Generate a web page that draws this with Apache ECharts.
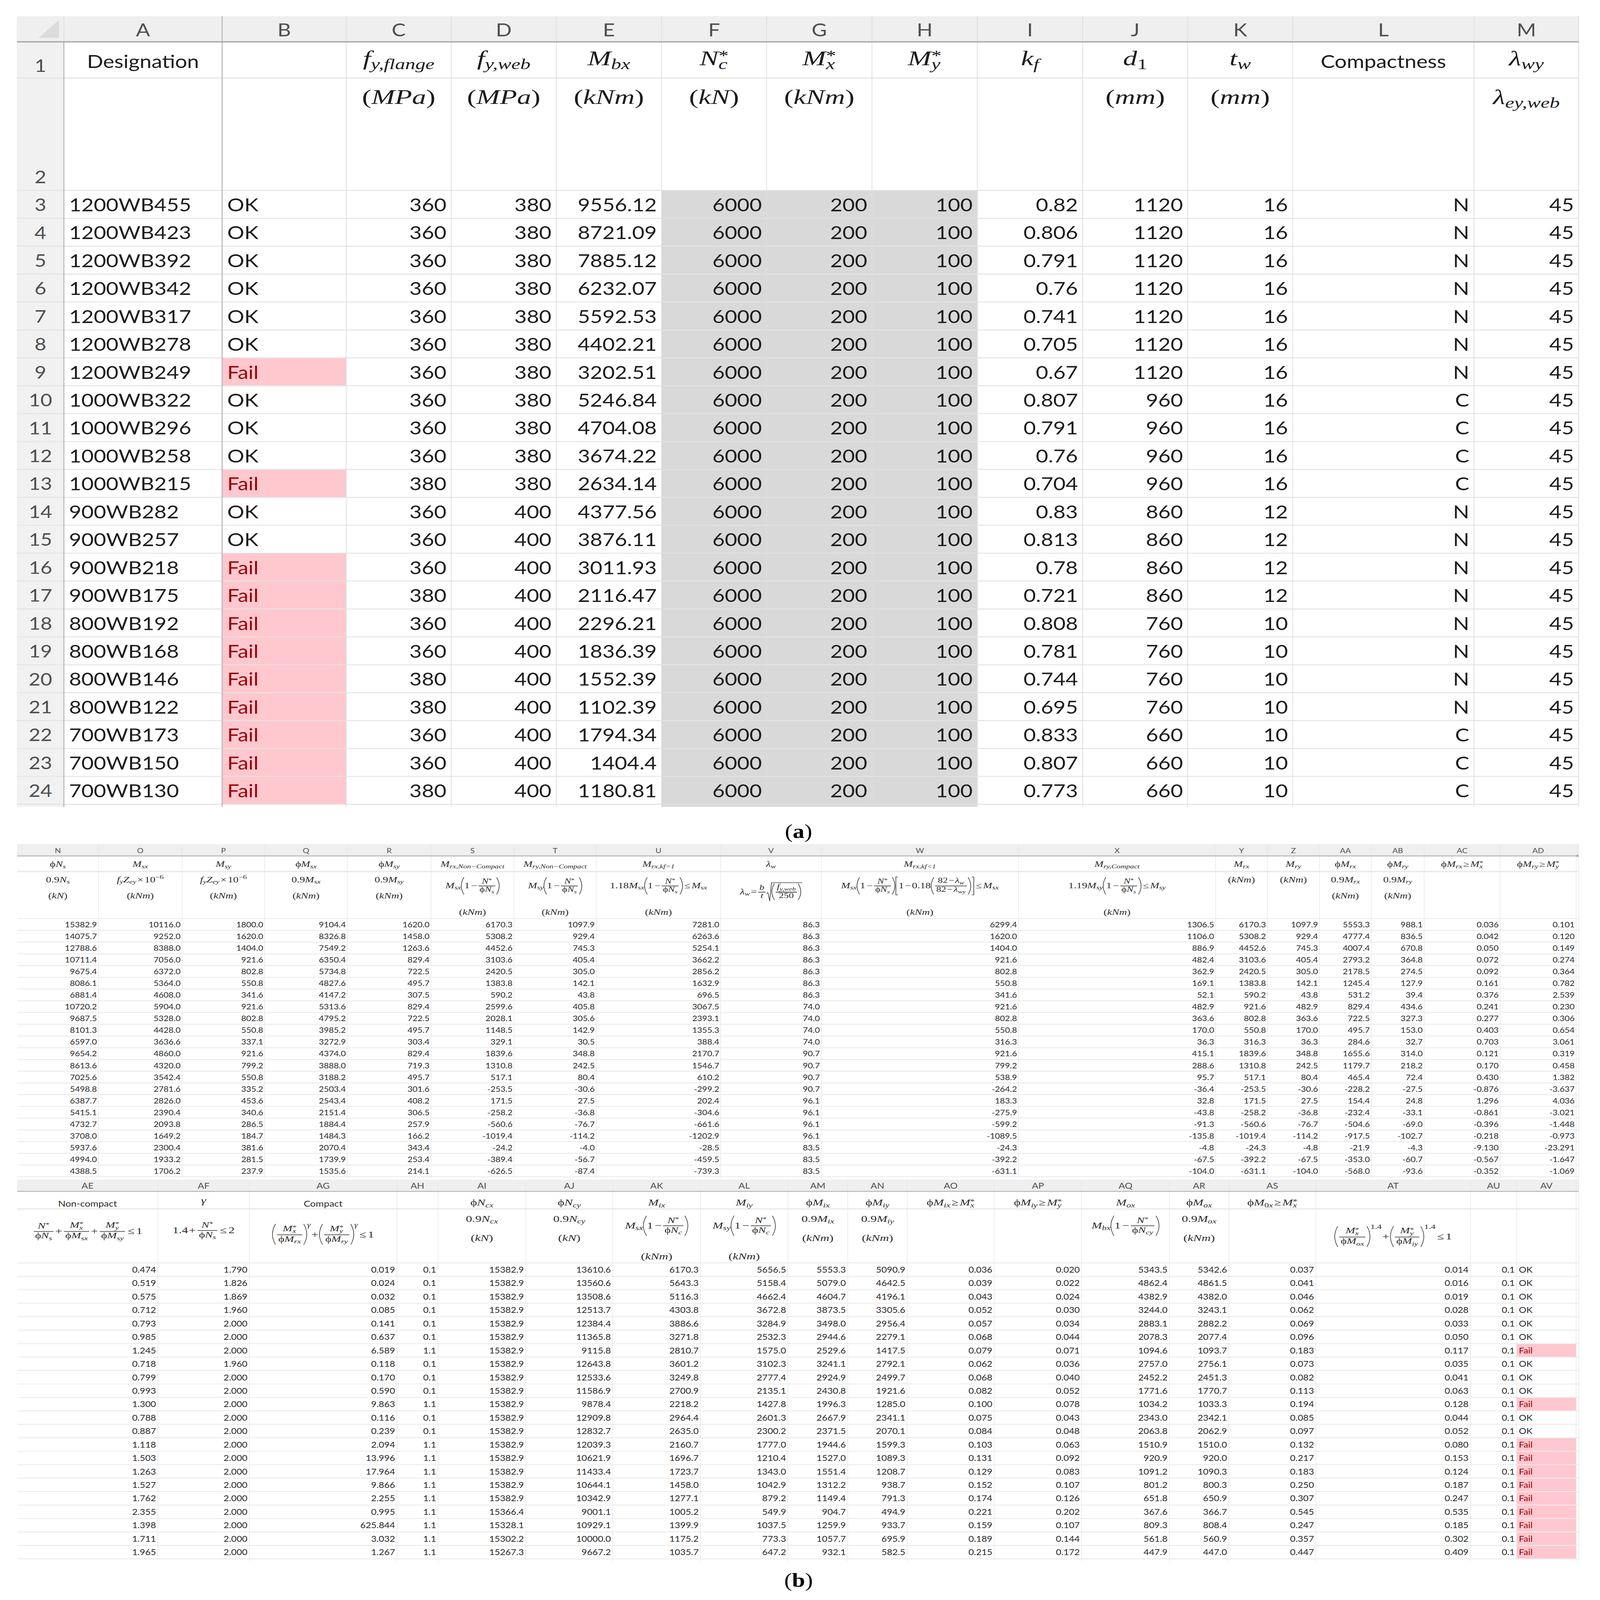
<!DOCTYPE html>
<html>
<head>
<meta charset="utf-8">
<title>Section capacity spreadsheet</title>
<style>html,body{margin:0;padding:0;background:#fff;overflow:hidden}#main{width:4358px;height:5126px;transform-origin:0 0}</style>
<script src="https://cdn.jsdelivr.net/npm/echarts@6/dist/echarts.min.js"></script>
</head>
<body>
<div id="main"></div>
<script>
// ---------- sheet (a) values ----------
var designation = ['1200WB455','1200WB423','1200WB392','1200WB342','1200WB317','1200WB278','1200WB249','1000WB322','1000WB296','1000WB258','1000WB215','900WB282','900WB257','900WB218','900WB175','800WB192','800WB168','800WB146','800WB122','700WB173','700WB150','700WB130'];
var sectionCheck = ['OK','OK','OK','OK','OK','OK','Fail','OK','OK','OK','Fail','OK','OK','Fail','Fail','Fail','Fail','Fail','Fail','Fail','Fail','Fail'];
var fyFlange = [360,360,360,360,360,360,360,360,360,360,380,360,360,360,380,360,360,380,380,360,360,380];
var fyWeb = [380,380,380,380,380,380,380,380,380,380,380,400,400,400,400,400,400,400,400,400,400,400];
var Mbx = [9556.12,8721.09,7885.12,6232.07,5592.53,4402.21,3202.51,5246.84,4704.08,3674.22,2634.14,4377.56,3876.11,3011.93,2116.47,2296.21,1836.39,1552.39,1102.39,1794.34,1404.4,1180.81];
var Nc = [6000,6000,6000,6000,6000,6000,6000,6000,6000,6000,6000,6000,6000,6000,6000,6000,6000,6000,6000,6000,6000,6000];
var Mx = [200,200,200,200,200,200,200,200,200,200,200,200,200,200,200,200,200,200,200,200,200,200];
var My = [100,100,100,100,100,100,100,100,100,100,100,100,100,100,100,100,100,100,100,100,100,100];
var kf = [0.82,0.806,0.791,0.76,0.741,0.705,0.67,0.807,0.791,0.76,0.704,0.83,0.813,0.78,0.721,0.808,0.781,0.744,0.695,0.833,0.807,0.773];
var d1 = [1120,1120,1120,1120,1120,1120,1120,960,960,960,960,860,860,860,860,760,760,760,760,660,660,660];
var tw = [16,16,16,16,16,16,16,16,16,16,16,12,12,12,12,10,10,10,10,10,10,10];
var compactness = ['N','N','N','N','N','N','N','C','C','C','C','N','N','N','N','N','N','N','N','C','C','C'];
var lambdaWy = [45,45,45,45,45,45,45,45,45,45,45,45,45,45,45,45,45,45,45,45,45,45];

// ---------- sheet (b) values ----------
var phiNs = [15382.9,14075.7,12788.6,10711.4,9675.4,8086.1,6881.4,10720.2,9687.5,8101.3,6597.0,9654.2,8613.6,7025.6,5498.8,6387.7,5415.1,4732.7,3708.0,5937.6,4994.0,4388.5];
var Msx = [10116.0,9252.0,8388.0,7056.0,6372.0,5364.0,4608.0,5904.0,5328.0,4428.0,3636.6,4860.0,4320.0,3542.4,2781.6,2826.0,2390.4,2093.8,1649.2,2300.4,1933.2,1706.2];
var Msy = [1800.0,1620.0,1404.0,921.6,802.8,550.8,341.6,921.6,802.8,550.8,337.1,921.6,799.2,550.8,335.2,453.6,340.6,286.5,184.7,381.6,281.5,237.9];
var phiMsx = [9104.4,8326.8,7549.2,6350.4,5734.8,4827.6,4147.2,5313.6,4795.2,3985.2,3272.9,4374.0,3888.0,3188.2,2503.4,2543.4,2151.4,1884.4,1484.3,2070.4,1739.9,1535.6];
var phiMsy = [1620.0,1458.0,1263.6,829.4,722.5,495.7,307.5,829.4,722.5,495.7,303.4,829.4,719.3,495.7,301.6,408.2,306.5,257.9,166.2,343.4,253.4,214.1];
var MrxNon = [6170.3,5308.2,4452.6,3103.6,2420.5,1383.8,590.2,2599.6,2028.1,1148.5,329.1,1839.6,1310.8,517.1,-253.5,171.5,-258.2,-560.6,-1019.4,-24.2,-389.4,-626.5];
var MryNon = [1097.9,929.4,745.3,405.4,305.0,142.1,43.8,405.8,305.6,142.9,30.5,348.8,242.5,80.4,-30.6,27.5,-36.8,-76.7,-114.2,-4.0,-56.7,-87.4];
var MrxKf1 = [7281.0,6263.6,5254.1,3662.2,2856.2,1632.9,696.5,3067.5,2393.1,1355.3,388.4,2170.7,1546.7,610.2,-299.2,202.4,-304.6,-661.6,-1202.9,-28.5,-459.5,-739.3];
var lambdaW = [86.3,86.3,86.3,86.3,86.3,86.3,86.3,74.0,74.0,74.0,74.0,90.7,90.7,90.7,90.7,96.1,96.1,96.1,96.1,83.5,83.5,83.5];
var MrxKfLt1 = [6299.4,1620.0,1404.0,921.6,802.8,550.8,341.6,921.6,802.8,550.8,316.3,921.6,799.2,538.9,-264.2,183.3,-275.9,-599.2,-1089.5,-24.3,-392.2,-631.1];
var MryCompact = [1306.5,1106.0,886.9,482.4,362.9,169.1,52.1,482.9,363.6,170.0,36.3,415.1,288.6,95.7,-36.4,32.8,-43.8,-91.3,-135.8,-4.8,-67.5,-104.0];
var Mrx = [6170.3,5308.2,4452.6,3103.6,2420.5,1383.8,590.2,921.6,802.8,550.8,316.3,1839.6,1310.8,517.1,-253.5,171.5,-258.2,-560.6,-1019.4,-24.3,-392.2,-631.1];
var Mry = [1097.9,929.4,745.3,405.4,305.0,142.1,43.8,482.9,363.6,170.0,36.3,348.8,242.5,80.4,-30.6,27.5,-36.8,-76.7,-114.2,-4.8,-67.5,-104.0];
var phiMrx = [5553.3,4777.4,4007.4,2793.2,2178.5,1245.4,531.2,829.4,722.5,495.7,284.6,1655.6,1179.7,465.4,-228.2,154.4,-232.4,-504.6,-917.5,-21.9,-353.0,-568.0];
var phiMry = [988.1,836.5,670.8,364.8,274.5,127.9,39.4,434.6,327.3,153.0,32.7,314.0,218.2,72.4,-27.5,24.8,-33.1,-69.0,-102.7,-4.3,-60.7,-93.6];
var ratioRx = [0.036,0.042,0.050,0.072,0.092,0.161,0.376,0.241,0.277,0.403,0.703,0.121,0.170,0.430,-0.876,1.296,-0.861,-0.396,-0.218,-9.130,-0.567,-0.352];
var ratioRy = [0.101,0.120,0.149,0.274,0.364,0.782,2.539,0.230,0.306,0.654,3.061,0.319,0.458,1.382,-3.637,4.036,-3.021,-1.448,-0.973,-23.291,-1.647,-1.069];

// ---------- sheet (c) values ----------
var nonCompact = [0.474,0.519,0.575,0.712,0.793,0.985,1.245,0.718,0.799,0.993,1.300,0.788,0.887,1.118,1.503,1.263,1.527,1.762,2.355,1.398,1.711,1.965];
var gammaVal = [1.790,1.826,1.869,1.960,2.000,2.000,2.000,1.960,2.000,2.000,2.000,2.000,2.000,2.000,2.000,2.000,2.000,2.000,2.000,2.000,2.000,2.000];
var compactVal = [0.019,0.024,0.032,0.085,0.141,0.637,6.589,0.118,0.170,0.590,9.863,0.116,0.239,2.094,13.996,17.964,9.866,2.255,0.995,625.844,3.032,1.267];
var flagA = [0.1,0.1,0.1,0.1,0.1,0.1,1.1,0.1,0.1,0.1,1.1,0.1,0.1,1.1,1.1,1.1,1.1,1.1,1.1,1.1,1.1,1.1];
var phiNcx = [15382.9,15382.9,15382.9,15382.9,15382.9,15382.9,15382.9,15382.9,15382.9,15382.9,15382.9,15382.9,15382.9,15382.9,15382.9,15382.9,15382.9,15382.9,15366.4,15328.1,15302.2,15267.3];
var phiNcy = [13610.6,13560.6,13508.6,12513.7,12384.4,11365.8,9115.8,12643.8,12533.6,11586.9,9878.4,12909.8,12832.7,12039.3,10621.9,11433.4,10644.1,10342.9,9001.1,10929.1,10000.0,9667.2];
var Mix = [6170.3,5643.3,5116.3,4303.8,3886.6,3271.8,2810.7,3601.2,3249.8,2700.9,2218.2,2964.4,2635.0,2160.7,1696.7,1723.7,1458.0,1277.1,1005.2,1399.9,1175.2,1035.7];
var Miy = [5656.5,5158.4,4662.4,3672.8,3284.9,2532.3,1575.0,3102.3,2777.4,2135.1,1427.8,2601.3,2300.2,1777.0,1210.4,1343.0,1042.9,879.2,549.9,1037.5,773.3,647.2];
var phiMix = [5553.3,5079.0,4604.7,3873.5,3498.0,2944.6,2529.6,3241.1,2924.9,2430.8,1996.3,2667.9,2371.5,1944.6,1527.0,1551.4,1312.2,1149.4,904.7,1259.9,1057.7,932.1];
var phiMiy = [5090.9,4642.5,4196.1,3305.6,2956.4,2279.1,1417.5,2792.1,2499.7,1921.6,1285.0,2341.1,2070.1,1599.3,1089.3,1208.7,938.7,791.3,494.9,933.7,695.9,582.5];
var ratioIx = [0.036,0.039,0.043,0.052,0.057,0.068,0.079,0.062,0.068,0.082,0.100,0.075,0.084,0.103,0.131,0.129,0.152,0.174,0.221,0.159,0.189,0.215];
var ratioIy = [0.020,0.022,0.024,0.030,0.034,0.044,0.071,0.036,0.040,0.052,0.078,0.043,0.048,0.063,0.092,0.083,0.107,0.126,0.202,0.107,0.144,0.172];
var Mox = [5343.5,4862.4,4382.9,3244.0,2883.1,2078.3,1094.6,2757.0,2452.2,1771.6,1034.2,2343.0,2063.8,1510.9,920.9,1091.2,801.2,651.8,367.6,809.3,561.8,447.9];
var phiMox = [5342.6,4861.5,4382.0,3243.1,2882.2,2077.4,1093.7,2756.1,2451.3,1770.7,1033.3,2342.1,2062.9,1510.0,920.0,1090.3,800.3,650.9,366.7,808.4,560.9,447.0];
var ratioOx = [0.037,0.041,0.046,0.062,0.069,0.096,0.183,0.073,0.082,0.113,0.194,0.085,0.097,0.132,0.217,0.183,0.250,0.307,0.545,0.247,0.357,0.447];
var biaxial = [0.014,0.016,0.019,0.028,0.033,0.050,0.117,0.035,0.041,0.063,0.128,0.044,0.052,0.080,0.153,0.124,0.187,0.247,0.535,0.185,0.302,0.409];
var flagB = [0.1,0.1,0.1,0.1,0.1,0.1,0.1,0.1,0.1,0.1,0.1,0.1,0.1,0.1,0.1,0.1,0.1,0.1,0.1,0.1,0.1,0.1];
var finalCheck = ['OK','OK','OK','OK','OK','OK','Fail','OK','OK','OK','Fail','OK','OK','Fail','Fail','Fail','Fail','Fail','Fail','Fail','Fail','Fail'];

// column letters
var lettersA = ['A','B','C','D','E','F','G','H','I','J','K','L','M'];
var lettersB = ['N','O','P','Q','R','S','T','U','V','W','X','Y','Z','AA','AB','AC','AD'];
var lettersC = ['AE','AF','AG','AH','AI','AJ','AK','AL','AM','AN','AO','AP','AQ','AR','AS','AT','AU','AV'];

// ---------- small formula layout for the header cells ----------
var SERIF = '"Liberation Serif","DejaVu Serif",serif';
var SANS = 'Lato,"Liberation Sans",sans-serif';
var STRETCH = 1.18;
var meter = document.createElement('canvas').getContext('2d');

function T(s, o) {
    o = o || {};
    return function (size) {
        var sz = size * (o.k || 1);
        meter.font = (o.i ? 'italic ' : '') + sz + 'px ' + SERIF;
        return {
            w: meter.measureText(s).width * STRETCH, asc: 0.68 * sz, desc: 0.2 * sz,
            draw: function (x, y, out, ink) {
                out.push({ type: 'text', x: x, y: y - 0.33 * sz + (o.dy || 0) * sz, scaleX: STRETCH,
                    style: { text: s, fontSize: sz, fontFamily: SERIF, fontStyle: o.i ? 'italic' : 'normal', fill: ink, align: 'left', verticalAlign: 'middle' } });
            }
        };
    };
}
function v(s) { return T(s, { i: 1 }); }
function r(s) { return T(s); }
function H() {
    var items = [].slice.call(arguments);
    return function (size) {
        var bs = items.map(function (b) { return b(size); });
        var w = 0, asc = 0, desc = 0;
        bs.forEach(function (b) { w += b.w; asc = Math.max(asc, b.asc); desc = Math.max(desc, b.desc); });
        return { w: w, asc: asc, desc: desc, draw: function (x, y, out, ink) {
            bs.forEach(function (b) { b.draw(x, y, out, ink); x += b.w; });
        } };
    };
}
function G(k) {
    return function (size) { return { w: k * size, asc: 0, desc: 0, draw: function () {} }; };
}
function S(base, sub, sup) {
    return function (size) {
        var b = base(size), sb = sub ? sub(size * 0.72) : null, sp = sup ? sup(size * 0.72) : null;
        var w = Math.max(sb ? sb.w : 0, sp ? sp.w : 0);
        return { w: b.w + w, asc: b.asc + (sp ? 0.12 * size : 0), desc: b.desc + (sb ? 0.1 * size : 0), draw: function (x, y, out, ink) {
            b.draw(x, y, out, ink);
            if (sb) sb.draw(x + b.w, y + Math.max(0.2 * size, b.desc - 0.3 * size), out, ink);
            if (sp) sp.draw(x + b.w, y - Math.max(0.4 * size, b.asc - 0.3 * size), out, ink);
        } };
    };
}
function F(num, den) {
    return function (size) {
        var n = num(size * 0.92), d = den(size * 0.92), w = Math.max(n.w, d.w) + 0.25 * size, gap = 0.13 * size;
        return { w: w + 0.2 * size, asc: 0.27 * size + gap + n.asc + n.desc, desc: gap + d.asc + d.desc - 0.27 * size, draw: function (x, y, out, ink) {
            var axis = y - 0.27 * size;
            n.draw(x + 0.1 * size + (w - n.w) / 2, axis - gap - n.desc, out, ink);
            d.draw(x + 0.1 * size + (w - d.w) / 2, axis + gap + d.asc, out, ink);
            out.push({ type: 'line', shape: { x1: x + 0.1 * size, y1: axis, x2: x + 0.1 * size + w, y2: axis }, style: { stroke: ink, lineWidth: Math.max(2, 0.06 * size) } });
        } };
    };
}
function P(inner, square) {
    return function (size) {
        var b = inner(size), pw = 0.36 * size, m = 0.06 * size;
        return { w: b.w + 2 * pw, asc: b.asc + m, desc: b.desc + m, draw: function (x, y, out, ink) {
            var top = y - b.asc - m, bot = y + b.desc + m, lw = Math.max(1.6, 0.05 * size), xr = x + b.w + 2 * pw;
            if (square) {
                out.push({ type: 'polyline', shape: { points: [[x + pw * 0.8, top], [x + pw * 0.2, top], [x + pw * 0.2, bot], [x + pw * 0.8, bot]] }, style: { stroke: ink, lineWidth: lw, fill: null } });
                out.push({ type: 'polyline', shape: { points: [[xr - pw * 0.8, top], [xr - pw * 0.2, top], [xr - pw * 0.2, bot], [xr - pw * 0.8, bot]] }, style: { stroke: ink, lineWidth: lw, fill: null } });
            } else {
                out.push({ type: 'bezierCurve', shape: { x1: x + pw * 0.9, y1: top, x2: x + pw * 0.9, y2: bot, cpx1: x - pw * 0.7, cpy1: (top + bot) / 2 }, style: { stroke: ink, lineWidth: lw, fill: null } });
                out.push({ type: 'bezierCurve', shape: { x1: xr - pw * 0.9, y1: top, x2: xr - pw * 0.9, y2: bot, cpx1: xr + pw * 0.7, cpy1: (top + bot) / 2 }, style: { stroke: ink, lineWidth: lw, fill: null } });
            }
            b.draw(x + pw, y, out, ink);
        } };
    };
}
function Root(inner) {
    return function (size) {
        var b = inner(size), rw = 0.55 * size, m = 0.12 * size;
        return { w: b.w + rw + 0.1 * size, asc: b.asc + m, desc: b.desc + m, draw: function (x, y, out, ink) {
            var top = y - b.asc - m, bot = y + b.desc + m;
            out.push({ type: 'polyline', shape: { points: [[x, y - 0.1 * size], [x + rw * 0.3, y - 0.2 * size], [x + rw * 0.65, bot], [x + rw, top], [x + rw + b.w + 0.1 * size, top]] }, style: { stroke: ink, lineWidth: Math.max(1.6, 0.06 * size), fill: null } });
            b.draw(x + rw, y, out, ink);
        } };
    };
}

var PHI = r('\u03d5');
function sb(a, b) { return S(v(a), v(b)); }
function star(a, b) { return S(v(a), b ? v(b) : null, T('*', { dy: 0.22 })); }
function phiSb(a, b) { return H(PHI, sb(a, b)); }
function unit(s) { return H(r('('), v(s), r(')')); }
function le(x) { return H(G(0.15), r('\u2264'), G(0.15), x); }
function minus1(den) { return P(H(r('1'), G(0.15), r('\u2212'), G(0.03), F(star('N'), den))); }
function ge(left, right) { return H(left, G(0.12), r('\u2265'), G(0.12), right); }
function plus() { return H(G(0.06), r('+'), G(0.06)); }
var fyZ = H(v('f'), S(v(''), v('y')), sb('Z', 'ey'), G(0.12), r('\u00d7'), G(0.12), S(r('10'), null, T('\u22126', {})));
var phiNsBox = H(PHI, sb('N', 's'));

// header cells: [column, y from sheet top, formula]
var headA = [
    [2, 157, sb('f', 'y,flange')], [3, 157, sb('f', 'y,web')], [4, 157, sb('M', 'bx')],
    [5, 157, star('N', 'c')], [6, 157, star('M', 'x')], [7, 157, star('M', 'y')],
    [8, 157, sb('k', 'f')], [9, 157, S(v('d'), r('1'))], [10, 157, sb('t', 'w')], [12, 157, S(v('\u03bb'), v('wy'))],
    [2, 280, unit('MPa')], [3, 280, unit('MPa')], [4, 280, unit('kNm')], [5, 280, unit('kN')], [6, 280, unit('kNm')],
    [9, 280, unit('mm')], [10, 280, unit('mm')], [12, 280, S(v('\u03bb'), v('ey,web'))]
];
var headB = [
    [0, 73, phiSb('N', 's')], [1, 73, sb('M', 'sx')], [2, 73, sb('M', 'sy')], [3, 73, phiSb('M', 'sx')], [4, 73, phiSb('M', 'sy')],
    [5, 73, sb('M', 'rx,Non\u2212Compact')], [6, 73, sb('M', 'ry,Non\u2212Compact')], [7, 73, sb('M', 'rx,kf=1')], [8, 73, sb('\u03bb', 'w')],
    [9, 73, sb('M', 'rx,kf<1')], [10, 73, sb('M', 'ry,Compact')], [11, 73, sb('M', 'rx')], [12, 73, sb('M', 'ry')],
    [13, 73, phiSb('M', 'rx')], [14, 73, phiSb('M', 'ry')], [15, 73, ge(phiSb('M', 'rx'), star('M', 'x'))], [16, 73, ge(phiSb('M', 'ry'), star('M', 'y'))],
    [0, 122, H(r('0.9'), sb('N', 's'))], [1, 122, fyZ], [2, 122, fyZ], [3, 122, H(r('0.9'), sb('M', 'sx'))], [4, 122, H(r('0.9'), sb('M', 'sy'))],
    [13, 122, H(r('0.9'), sb('M', 'rx'))], [14, 122, H(r('0.9'), sb('M', 'ry'))], [11, 122, unit('kNm')], [12, 122, unit('kNm')],
    [0, 174, unit('kN')], [1, 174, unit('kNm')], [2, 174, unit('kNm')], [3, 174, unit('kNm')], [4, 174, unit('kNm')], [13, 174, unit('kNm')], [14, 174, unit('kNm')],
    [5, 141, H(sb('M', 'sx'), minus1(phiNsBox))], [6, 141, H(sb('M', 'sy'), minus1(phiNsBox))],
    [7, 141, H(r('1.18'), sb('M', 'sx'), minus1(phiNsBox), le(sb('M', 'sx')))],
    [8, 161, H(sb('\u03bb', 'w'), G(0.1), r('='), G(0.05), F(v('b'), v('t')), Root(P(F(sb('f', 'y,web'), r('250')))))],
    [9, 141, H(sb('M', 'sx'), minus1(phiNsBox), P(H(r('1'), G(0.1), r('\u2212'), G(0.1), r('0.18'), P(F(H(r('82'), G(0.1), r('\u2212'), G(0.1), sb('\u03bb', 'w')), H(r('82'), G(0.1), r('\u2212'), G(0.1), sb('\u03bb', 'wy'))))), true), le(sb('M', 'sx')))],
    [10, 141, H(r('1.19'), sb('M', 'sy'), minus1(phiNsBox), le(sb('M', 'sy')))],
    [5, 226, unit('kNm')], [6, 226, unit('kNm')], [7, 226, unit('kNm')], [9, 226, unit('kNm')], [10, 226, unit('kNm')]
];
var phiNcBox = H(PHI, sb('N', 'c'));
var phiNcyBox = H(PHI, sb('N', 'cy'));
function powFrac(num, den, exp) { return S(P(F(num, den)), null, exp); }
var headC = [
    [1, 77, v('\u03b3')], [4, 83, phiSb('N', 'cx')], [5, 83, phiSb('N', 'cy')], [6, 83, sb('M', 'ix')], [7, 83, sb('M', 'iy')],
    [8, 83, phiSb('M', 'ix')], [9, 83, phiSb('M', 'iy')], [10, 83, ge(phiSb('M', 'ix'), star('M', 'x'))], [11, 83, ge(phiSb('M', 'iy'), star('M', 'y'))],
    [12, 83, sb('M', 'ox')], [13, 83, phiSb('M', 'ox')], [14, 83, ge(H(PHI, S(v('M'), H(r('0'), v('x')))), star('M', 'x'))],
    [0, 174, H(F(star('N'), phiNsBox), plus(), F(star('M', 'x'), phiSb('M', 'sx')), plus(), F(star('M', 'y'), phiSb('M', 'sy')), le(r('1')))],
    [1, 171, H(r('1.4'), plus(), F(star('N'), phiNsBox), le(r('2')))],
    [2, 185, H(powFrac(star('M', 'x'), phiSb('M', 'rx'), v('\u03b3')), plus(), powFrac(star('M', 'y'), phiSb('M', 'ry'), v('\u03b3')), le(r('1')))],
    [4, 135, H(r('0.9'), sb('N', 'cx'))], [5, 135, H(r('0.9'), sb('N', 'cy'))], [8, 135, H(r('0.9'), sb('M', 'ix'))], [9, 135, H(r('0.9'), sb('M', 'iy'))], [13, 135, H(r('0.9'), sb('M', 'ox'))],
    [4, 197, unit('kN')], [5, 197, unit('kN')], [8, 197, unit('kNm')], [9, 197, unit('kNm')], [13, 197, unit('kNm')],
    [6, 156, H(sb('M', 'sx'), minus1(phiNcBox))], [7, 156, H(sb('M', 'sy'), minus1(phiNcBox))], [12, 156, H(sb('M', 'bx'), minus1(phiNcyBox))],
    [6, 256, unit('kNm')], [7, 256, unit('kNm')],
    [15, 192, H(powFrac(star('M', 'x'), phiSb('M', 'ox'), r('1.4')), plus(), powFrac(star('M', 'y'), phiSb('M', 'iy'), r('1.4')), le(r('1')))]
];

// ---------- sheet layout ----------
function repeat(h, n) { var a = []; for (var i = 0; i < n; i++) a.push(h); return a; }
function String2(a) { return a.map(String); }
function Fixed(n) { return function (a) { return a.map(function (x) { return x.toFixed(n); }); }; }
function edges(list) { var e = [0]; list.forEach(function (w, i) { e.push(e[i] + w); }); return e; }
var sheets = [
    { left: 46, top: 52,
      widths: [128,431,338,286,286,287,286,287,287,287,286,286,494,285],
      heights: [82,116,360].concat(repeat(89.4, 22), [8]),
      letters: lettersA, letterSize: 57, bodySize: 58, pad: 13, mathSize: 65, ink: '#1c1c1c',
      lineRow: '#e3e3e3', lineCol: '#dedede', rowW: 3, colW: 2, headLine: '#a6a6a6', headW: 4,
      columns: [designation, sectionCheck, fyFlange, fyWeb, Mbx, Nc, Mx, My, kf, d1, tw, compactness, lambdaWy].map(String2),
      leftCols: [0, 1], head: headA, firstCol: 1,
      words: [[0, 144, 'Designation'], [11, 144, 'Compactness']] },
    { left: 47, top: 2704,
      widths: [221,228,225,225,228,226,224,339,274,537,537,141,142,141,144,207,207,7],
      heights: [38,50,151].concat(repeat(37.6, 22), [4]),
      letters: lettersB, letterSize: 22, bodySize: 23.5, pad: 4, mathSize: 25, ink: '#2a2a2a',
      lineRow: '#ececec', lineCol: '#e6e6e6', rowW: 3, colW: 1.5, headLine: '#c2c2c2', headW: 4,
      columns: [phiNs, Msx, Msy, phiMsx, phiMsy, MrxNon, MryNon, MrxKf1, lambdaW, MrxKfLt1, MryCompact, Mrx, Mry, phiMrx, phiMry].map(Fixed(1)).concat([ratioRx, ratioRy].map(Fixed(3))),
      leftCols: [], head: headB, firstCol: 0, words: [] },
    { left: 47, top: 3779,
      widths: [383,249,402,112,239,237,239,238,163,162,237,238,239,162,237,421,126,162,7],
      heights: [38,56,173].concat(repeat(43.1, 22), [8]),
      letters: lettersC, letterSize: 26, bodySize: 25.5, pad: 5, mathSize: 29, ink: '#2a2a2a',
      lineRow: '#ececec', lineCol: '#e6e6e6', rowW: 3, colW: 1.5, headLine: '#b8b8b8', headW: 3,
      columns: [nonCompact, gammaVal, compactVal].map(Fixed(3)).concat([flagA].map(Fixed(1)), [phiNcx, phiNcy, Mix, Miy, phiMix, phiMiy].map(Fixed(1)), [ratioIx, ratioIy].map(Fixed(3)), [Mox, phiMox].map(Fixed(1)), [ratioOx, biaxial].map(Fixed(3)), [flagB].map(Fixed(1)), [finalCheck]),
      leftCols: [17], head: headC, firstCol: 0,
      words: [[0, 77, 'Non-compact'], [2, 77, 'Compact']] }
];

function buildMarks(s, idx) {
    var xs = edges(s.widths), ys = edges(s.heights), m = [], fc = s.firstCol, xEnd = xs[xs.length - 1], yEnd = ys[ys.length - 1];
    function rect(x0, y0, x1, y1, fill) { m.push({ k: 'rect', d: [x0, y0, x1, y1], fill: fill, z: 0 }); }
    function line(x0, y0, x1, y1, c, w) { m.push({ k: 'line', d: [x0, y0, x1, y1], c: c, w: w, z: 1 }); }

    rect(0, 0, xEnd, ys[1], '#efefef');
    if (fc) rect(0, ys[1], xs[1], yEnd, '#f1f1f1');
    for (var i = 2; i < ys.length - 1; i++) line(0, ys[i], xEnd, ys[i], s.lineRow, i === 2 && idx ? 5 : s.rowW);
    for (i = 1; i < xs.length; i++) line(xs[i], 0, xs[i], yEnd, s.lineCol, s.colW);
    line(xs[0], ys[1], xEnd, ys[1], s.headLine, s.headW);
    if (fc) {
        line(xs[1], ys[1], xs[1], yEnd, '#a3a3a3', 2);
        line(xs[2], 0, xs[2], yEnd, '#a3a3a3', 2);
        m.push({ k: 'tri', d: [59, 12, 115, 69], z: 1 });
        rect(xs[6], ys[3], xs[9], yEnd, '#d9d9d9');
    }
    // conditional fill for the failed rows
    var checkCol = idx === 0 ? 1 : idx === 2 ? 17 : -1;
    if (checkCol >= 0) s.columns[checkCol].forEach(function (t, row) {
        if (t === 'Fail') rect(xs[checkCol + fc], ys[row + 3], xs[checkCol + fc + 1], ys[row + 4], '#ffc7ce');
    });
    if (idx === 1) rect(xEnd - 6, ys[1] - 3, xEnd, ys[1] + 3, '#217346');

    s.letters.forEach(function (t, c) {
        m.push({ k: 'text', d: [(xs[c + fc] + xs[c + fc + 1]) / 2, ys[1] / 2 + 1, 0, 0], t: t, size: s.letterSize, c: '#4f4f4f', a: 'center', z: 3 });
    });
    if (fc) {
        m.push({ k: 'text', d: [xs[1] / 2, 157, 0, 0], t: '1', size: 55, c: '#4f4f4f', a: 'center', z: 3 });
        m.push({ k: 'text', d: [xs[1] / 2, 514, 0, 0], t: '2', size: 55, c: '#4f4f4f', a: 'center', z: 3 });
        s.columns[0].forEach(function (t, row) {
            m.push({ k: 'text', d: [xs[1] / 2, (ys[row + 3] + ys[row + 4]) / 2, 0, 0], t: String(row + 3), size: 55, c: '#4f4f4f', a: 'center', z: 3 });
        });
    }
    s.words.forEach(function (w) {
        m.push({ k: 'text', d: [(xs[w[0] + fc] + xs[w[0] + fc + 1]) / 2, w[1], 0, 0], t: w[2], size: s.bodySize * (idx ? 1.05 : 1), c: s.ink, a: 'center', z: 3 });
    });
    s.columns.forEach(function (vals, c) {
        var isLeft = s.leftCols.indexOf(c) >= 0;
        vals.forEach(function (t, row) {
            var cy = (ys[row + 3] + ys[row + 4]) / 2;
            var x = isLeft ? xs[c + fc] + s.pad + 1 : xs[c + fc + 1] - s.pad;
            m.push({ k: 'text', d: [x, cy, 0, 0], t: t, size: s.bodySize, c: t === 'Fail' ? '#9c0006' : s.ink, a: isLeft ? 'left' : 'right', z: 3 });
        });
    });
    s.head.forEach(function (h) {
        m.push({ k: 'math', d: [(xs[h[0] + fc] + xs[h[0] + fc + 1]) / 2, h[1], 0, 0], box: h[2](s.mathSize), c: s.ink, z: 3 });
    });
    return m;
}

function seriesFor(s, idx) {
    var marks = buildMarks(s, idx);
    return {
        type: 'custom', xAxisIndex: idx, yAxisIndex: idx, clip: false, silent: true, animation: false,
        encode: { x: [0, 2], y: [1, 3] },
        data: marks.map(function (m) { return m.d; }),
        renderItem: function (params, api) {
            var m = marks[params.dataIndex];
            var p = api.coord([api.value(0), api.value(1)]), q = api.coord([api.value(2), api.value(3)]);
            if (m.k === 'rect') return { type: 'rect', z2: m.z, shape: { x: p[0], y: p[1], width: q[0] - p[0], height: q[1] - p[1] }, style: { fill: m.fill } };
            if (m.k === 'line') return { type: 'line', z2: m.z, shape: { x1: p[0], y1: p[1], x2: q[0], y2: q[1] }, style: { stroke: m.c, lineWidth: m.w } };
            if (m.k === 'tri') return { type: 'polygon', z2: m.z, shape: { points: [[q[0], p[1]], [q[0], q[1]], [p[0], q[1]]] }, style: { fill: '#dcdcdc' } };
            if (m.k === 'text') return { type: 'text', z2: m.z, x: p[0], y: p[1], style: { text: m.t, fontFamily: SANS, fontSize: m.size, fill: m.c, align: m.a, verticalAlign: 'middle' } };
            var kids = [];
            m.box.draw(0, 0, kids, m.c);
            kids.forEach(function (kid) { kid.z2 = m.z; });
            return { type: 'group', x: p[0] - m.box.w / 2, y: p[1], children: kids };
        }
    };
}

function axisFor(list, idx, dim) {
    var total = list.reduce(function (a, b) { return a + b; }, 0);
    return { type: 'value', gridIndex: idx, min: 0, max: total, show: false, inverse: dim === 'y' };
}

function caption(letter, top) {
    return {
        text: '{r|(}{b|' + letter + '}{r|)}', left: 2175, top: top, textAlign: 'center', padding: 0,
        textStyle: { fontWeight: 'normal', rich: {
            r: { fontFamily: SERIF, fontSize: 64, fontWeight: 'normal', color: '#000' },
            b: { fontFamily: SERIF, fontSize: 64, fontWeight: 'bold', color: '#000' }
        } }
    };
}

var option = {
    backgroundColor: '#fff',
    animation: false,
    title: [caption('a', 2630), caption('b', 5030)],
    grid: sheets.map(function (s) {
        return { left: s.left, top: s.top, width: edges(s.widths).pop(), height: edges(s.heights).pop() };
    }),
    xAxis: sheets.map(function (s, i) { return axisFor(s.widths, i, 'x'); }),
    yAxis: sheets.map(function (s, i) { return axisFor(s.heights, i, 'y'); }),
    series: sheets.map(seriesFor)
};

// the whole 4358x5126 sheet has to fit the window the page really gets
var box = document.getElementById('main');
box.style.transform = 'scale(' + (window.innerWidth / 4358) + ',' + (window.innerHeight / 5126) + ')';
var myChart = echarts.init(box, null, { renderer: 'svg' });
myChart.setOption(option, true);
</script>
</body>
</html>
